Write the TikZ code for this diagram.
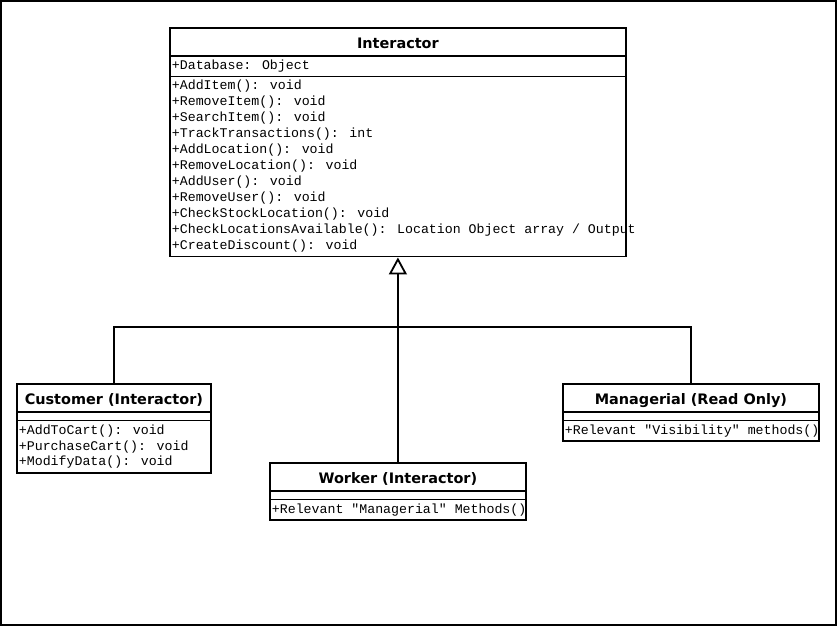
\documentclass[tikz,border=0pt]{standalone}
\usepackage{fontspec}
\usepackage{tikz}
\usetikzlibrary{shapes.multipart,arrows.meta}
\newfontfamily\umlmono{Liberation Mono}
\newfontfamily\umltitle{DejaVu Sans}
\newcommand\classname[1]{\makebox[\hsize]{\umltitle\bfseries\fontsize{14.5}{16}\selectfont\rule[-5bp]{0pt}{23bp}#1}}
\newcommand\emptypart{\rule{0pt}{4bp}}
\tikzset{
    umlclass/.style={draw, line width=1.8bp, rectangle split, rectangle split parts=3,
        inner xsep=2bp, inner ysep=1.5bp, anchor=north west, align=flush left,
        font=\umlmono\fontsize{13.3}{16}\selectfont},
    inherit/.style={line width=1.8bp},
}
\begin{document}
\begin{tikzpicture}[x=1bp,y=-1bp]
    \useasboundingbox (0,0) rectangle (837,626);
    \draw[line width=2bp] (1,1) rectangle (836,625);
    \node[umlclass, text width=452bp] (interactor) at (169,27) {\classname{Interactor}
        \nodepart{two}\strut+Database: Object
        \nodepart{three}\strut+AddItem(): void\\
        +RemoveItem(): void\\
        +SearchItem(): void\\
        +TrackTransactions(): int\\
        +AddLocation(): void\\
        +RemoveLocation(): void\\
        +AddUser(): void\\
        +RemoveUser(): void\\
        +CheckStockLocation(): void\\
        \mbox{+CheckLocationsAvailable(): Location Object array / Output}\\
        +CreateDiscount(): void\strut};
    \node[umlclass, text width=190bp] (customer) at (16,383) {\classname{Customer (Interactor)}
        \nodepart{two}\emptypart
        \nodepart{three}\strut+AddToCart(): void\\
        +PurchaseCart(): void\\
        +ModifyData(): void\strut};
    \node[umlclass, text width=252bp] (worker) at (269,462) {\classname{Worker (Interactor)}
        \nodepart{two}\emptypart
        \nodepart{three}\strut\mbox{+Relevant "Managerial" Methods()}};
    \node[umlclass, text width=252bp] (managerial) at (562,383) {\classname{Managerial (Read Only)}
        \nodepart{two}\emptypart
        \nodepart{three}\strut\mbox{+Relevant "Visibility" methods()}};
    \coordinate (bus) at (397,327);
    \draw[inherit, -{Triangle[open,length=17bp,width=18bp]}] (worker.north) -- (interactor.south);
    \draw[inherit] (customer.north) |- (bus) -| (managerial.north);
\end{tikzpicture}
\end{document}
